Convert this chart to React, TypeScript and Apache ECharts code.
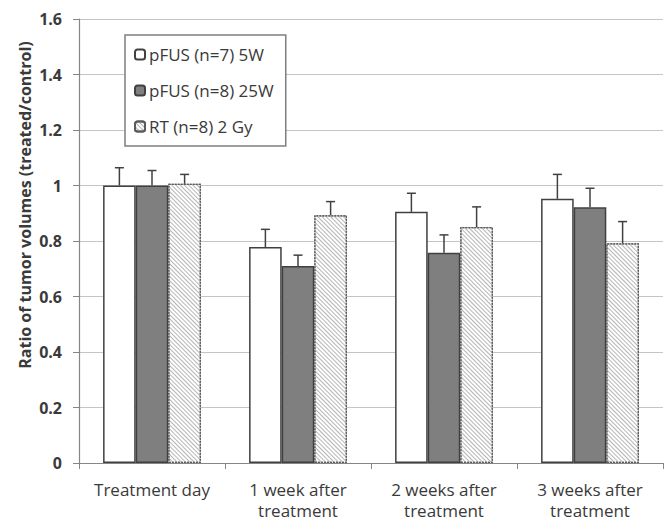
import React, { useEffect, useRef } from "react";
import * as echarts from "echarts";

const categories = ["Treatment day", "1 week after\ntreatment", "2 weeks after\ntreatment", "3 weeks after\ntreatment"];
const seriesNames = ["pFUS (n=7) 5W", "pFUS (n=8) 25W", "RT (n=8) 2 Gy"];
const pfus5 = [1.0, 0.778, 0.905, 0.952];
const pfus5Err = [0.064, 0.064, 0.067, 0.088];
const pfus25 = [1.0, 0.71, 0.758, 0.922];
const pfus25Err = [0.054, 0.039, 0.064, 0.068];
const rt = [1.006, 0.893, 0.85, 0.792];
const rtErr = [0.034, 0.049, 0.073, 0.078];
const yTicks = [0, 0.2, 0.4, 0.6, 0.8, 1, 1.2, 1.4, 1.6];
const yTitle = "Ratio of tumor volumes (treated/control)";

const FONT = '"Open Sans", "DejaVu Sans", sans-serif';
const TXT = "#3a3a3a";
const EDGE = "#404040";

export default function App() {
  const ref = useRef<HTMLDivElement>(null);
  useEffect(() => {
    document.body.style.margin = "0";
    const chart = echarts.init(ref.current!, null, { renderer: "svg" });
    const values = [pfus5, pfus25, rt];
    const errs = [pfus5Err, pfus25Err, rtErr];
    const styles: any[] = [
      { color: "#ffffff", borderColor: EDGE, borderWidth: 1.5 },
      { color: "#7f7f7f", borderColor: EDGE, borderWidth: 1.5 },
      {
        color: "#ffffff",
        borderColor: "#5a5a5a",
        borderWidth: 1.2,
        borderType: [2, 1],
        decal: {
          symbol: "rect",
          symbolSize: 1,
          dashArrayX: [1, 0],
          dashArrayY: [1, 1.8],
          rotation: Math.PI / 4,
          color: "#b5b5b5",
        },
      },
    ];
    const bars = values.map((vals, k) => ({
      name: seriesNames[k],
      type: "bar",
      data: vals,
      barGap: "0%",
      barCategoryGap: "33%",
      itemStyle: styles[k],
      z: 2,
    }));
    const errSeries = values.map((vals, k) => ({
      name: "err" + k,
      type: "custom",
      z: 3,
      data: vals.map((v, i) => [i, v, errs[k][i]]),
      encode: { x: 0, y: 1 },
      renderItem: (params: any, api: any) => {
        const idx = api.value(0);
        const v = api.value(1);
        const e = api.value(2);
        const band = api.size([1, 0])[0];
        const bw = (band * 0.67) / 3;
        const cx = api.coord([idx, v])[0] + (k - 1) * bw;
        const yBase = api.coord([idx, v])[1];
        const yTop = api.coord([idx, v + e])[1];
        const st = { stroke: EDGE, lineWidth: 1.5 };
        return {
          type: "group",
          children: [
            { type: "line", shape: { x1: cx, y1: yBase, x2: cx, y2: yTop }, style: st },
            { type: "line", shape: { x1: cx - 4.5, y1: yTop, x2: cx + 4.5, y2: yTop }, style: st },
          ],
        };
      },
    }));
    chart.setOption({
      animation: false,
      grid: { left: 79, right: 1, top: 19, bottom: 57, containLabel: false },
      legend: {
        data: seriesNames,
        orient: "vertical",
        left: 125,
        top: 35,
        itemWidth: 10,
        itemHeight: 10,
        itemGap: 17,
        padding: [10, 12, 10, 9],
        backgroundColor: "#ffffff",
        borderColor: "#7f7f7f",
        borderWidth: 1.5,
        textStyle: { fontFamily: FONT, fontSize: 17, color: TXT, lineHeight: 19, padding: [0, 0, 0, -1] },
      },
      xAxis: {
        type: "category",
        data: categories,
        axisLine: { lineStyle: { color: "#868686", width: 1.2 } },
        axisTick: { show: true, length: 6, lineStyle: { color: "#868686" } },
        axisLabel: { fontFamily: FONT, fontSize: 17, color: TXT, lineHeight: 21, margin: 16, interval: 0 },
      },
      yAxis: {
        type: "value",
        min: 0,
        max: 1.6,
        interval: 0.2,
        axisLine: { show: true, lineStyle: { color: "#868686", width: 1.2 } },
        axisTick: { show: true, length: 6, lineStyle: { color: "#868686" } },
        axisLabel: {
          fontFamily: FONT,
          fontSize: 16,
          fontWeight: "bold",
          color: TXT,
          margin: 17,
          formatter: (v: number) => {
            const t = yTicks.find((y) => Math.abs(y - v) < 1e-6);
            return t === undefined ? "" : String(t);
          },
        },
        splitLine: { lineStyle: { color: "#c4c4c4", width: 1.2 } },
      },
      graphic: [
        {
          type: "text",
          x: 25,
          y: 205,
          rotation: Math.PI / 2,
          style: {
            text: yTitle,
            fontFamily: FONT,
            fontSize: 16,
            fontWeight: "bold",
            fill: TXT,
            align: "center",
            verticalAlign: "middle",
          },
        },
      ],
      series: [...bars, ...errSeries],
    });
    return () => chart.dispose();
  }, []);
  return <div ref={ref} style={{ width: 664, height: 521 }} />;
}
